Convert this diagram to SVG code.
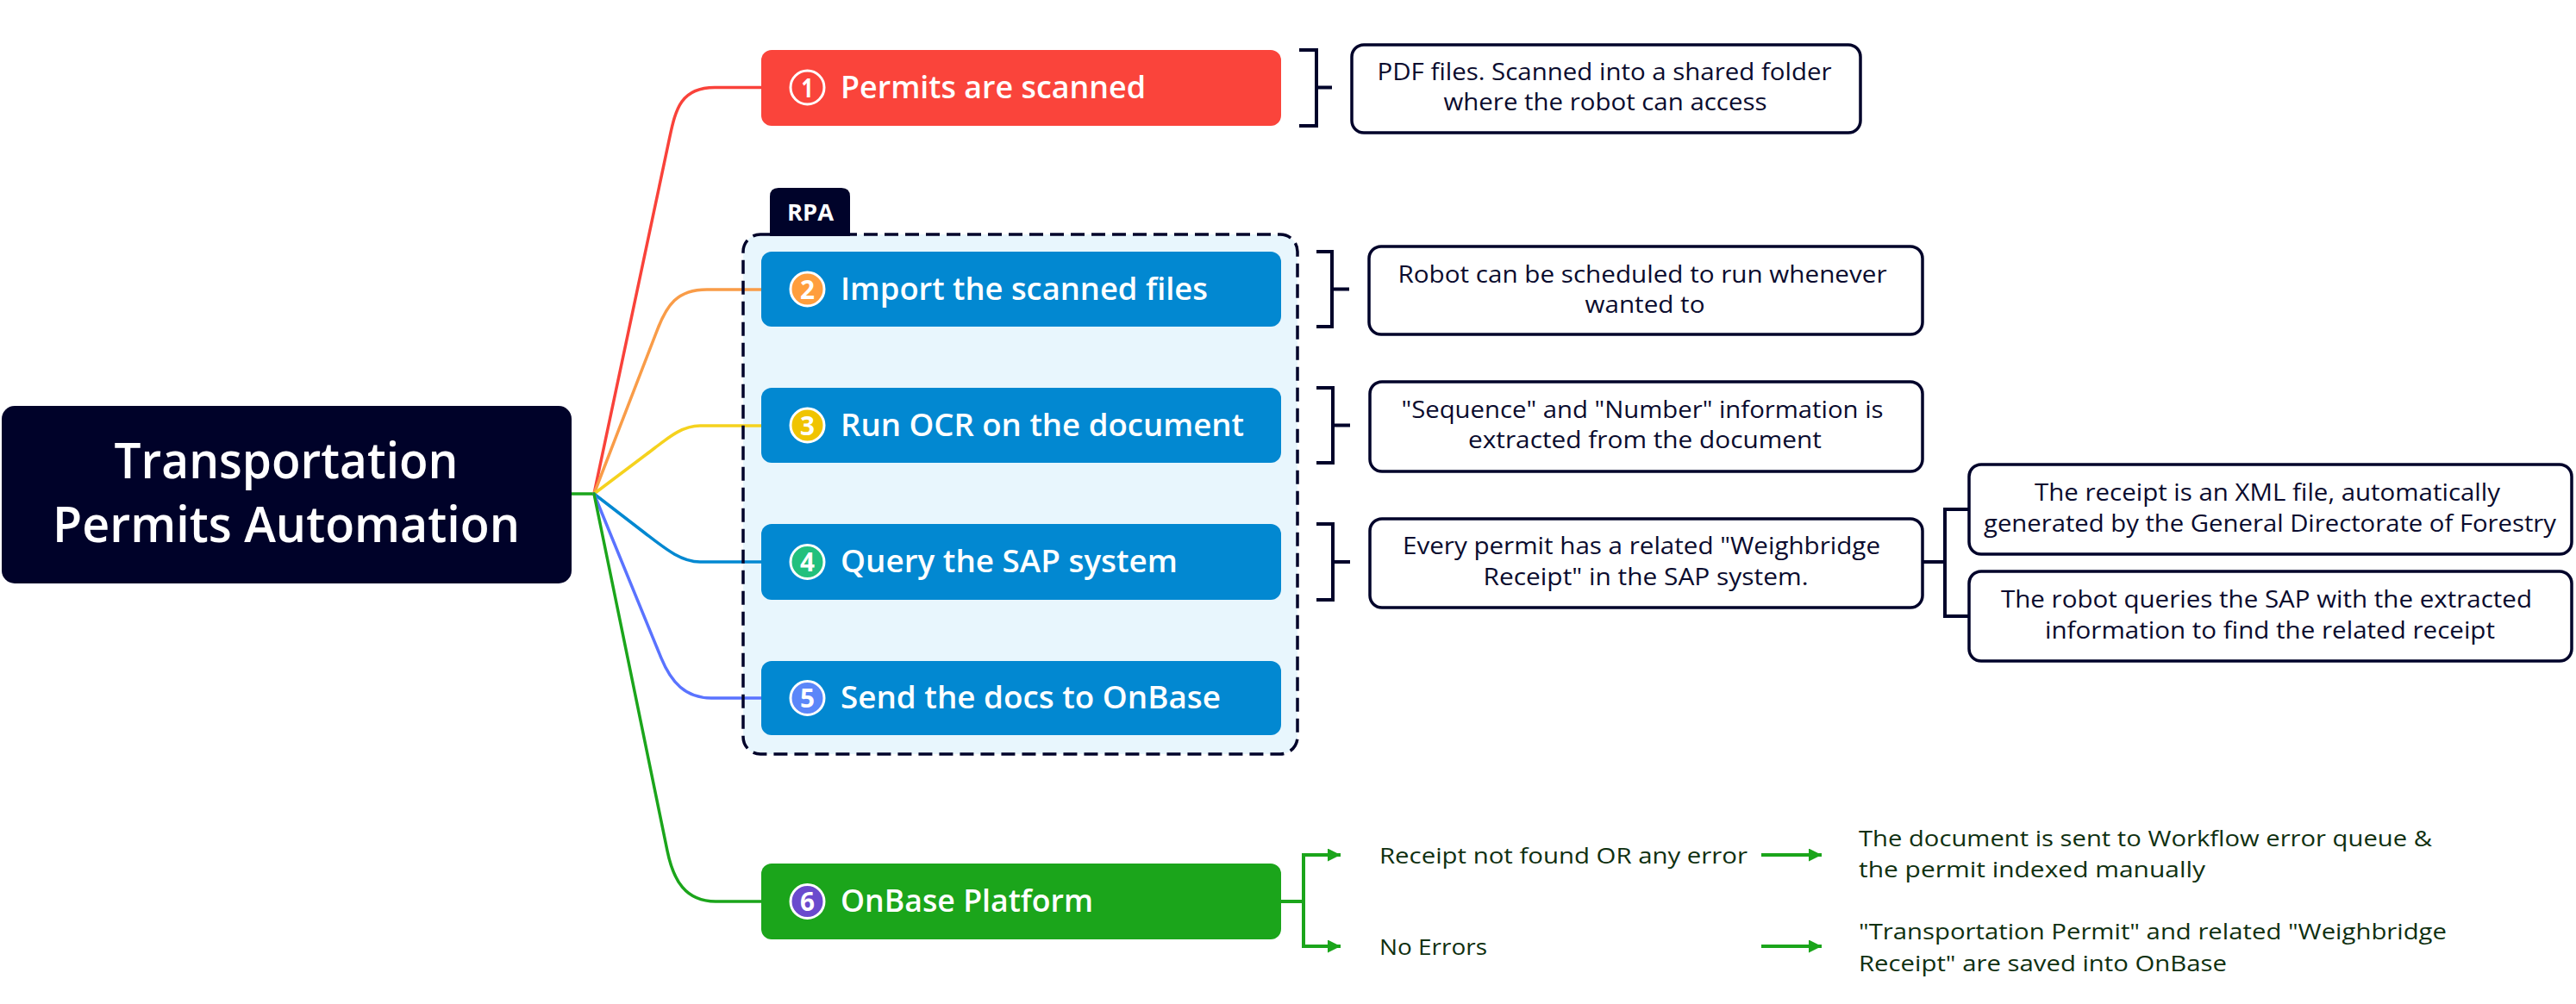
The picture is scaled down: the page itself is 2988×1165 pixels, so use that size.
<svg xmlns="http://www.w3.org/2000/svg" width="2988" height="1165" viewBox="0 0 2988 1165">
<style>
  .title{font-family:"Open Sans","Liberation Sans",sans-serif;font-weight:600;font-size:57px;fill:#ffffff;text-anchor:middle}
  .ntext{font-family:"Open Sans","Liberation Sans",sans-serif;font-weight:600;font-size:36px;fill:#ffffff}
  .num{font-family:"Open Sans","Liberation Sans",sans-serif;font-weight:700;font-size:31px;fill:#ffffff;text-anchor:middle}
  .badge{stroke:#ffffff;stroke-width:3}
  .note{fill:#ffffff;stroke:#00032A;stroke-width:3.5}
  .ntx{font-family:"Open Sans","Liberation Sans",sans-serif;font-size:27px;fill:#0A0B2E;text-anchor:middle}
  .gtx{font-family:"Open Sans","Liberation Sans",sans-serif;font-size:26px;fill:#0F3010}
  .brk{fill:none;stroke:#00032A;stroke-width:4}
  .con{fill:none;stroke-width:3.5;stroke-linecap:round}
  .gar{fill:none;stroke:#1BA51B;stroke-width:4}
  .blue{fill:#0288D1}
</style>
<defs>
  <marker id="ga" markerUnits="userSpaceOnUse" markerWidth="16" markerHeight="16" refX="15" refY="7.5" orient="auto">
    <path d="M0,0 L15,7.5 L0,15 Z" fill="#1BA51B"/>
  </marker>
</defs>
<rect width="2988" height="1165" fill="#ffffff"/>

<!-- RPA group background -->
<g id="rpa-bg">
  <rect x="862" y="272" width="643" height="603" rx="20" fill="#E8F6FD"/>
</g>

<!-- connectors -->
<g id="connectors">
  <path class="con" stroke="#1BA51B" d="M663,573 H689"/>
  <path class="con" stroke="#F9423A" d="M689,573 L776.6,160.2 C783.8,126 790,101.5 829,101.5 L883,101.5"/>
  <path class="con" stroke="#F99C48" d="M689,573 L762.5,382.6 C773.3,354.6 785,336 820,336 L883,336"/>
  <path class="con" stroke="#F5D21E" d="M689,573 L750,527 C774,509 790,494 812,494 L883,494"/>
  <path class="con" stroke="#0288D1" d="M689,573 L748,618.5 C771.8,636.8 790,652 812,652 L883,652"/>
  <path class="con" stroke="#5A73FF" d="M689,573 L767,763.7 C778.4,791.5 795,810 825,810 L883,810"/>
  <path class="con" stroke="#1BA51B" d="M689,573 L774,987.2 C781,1021.5 795,1046 830,1046 L883,1046"/>
  <!-- brackets -->
  <path class="brk" d="M1507,58 H1527 V146 H1507 M1527,101.5 H1545"/>
  <path class="brk" d="M1527,292 H1545 V379 H1527 M1545,335.5 H1565"/>
  <path class="brk" d="M1527,450 H1546 V537 H1527 M1546,493.5 H1566"/>
  <path class="brk" d="M1527,608 H1546 V696 H1527 M1546,652 H1566"/>
  <path class="brk" d="M2230,652 H2256 M2284,591 H2256 V715 H2284"/>
  <!-- green outcome arrows -->
  <path class="gar" d="M1486,1046 H1512"/>
  <path class="gar" d="M1512,1046 V992 H1555" marker-end="url(#ga)"/>
  <path class="gar" d="M1512,1046 V1098 H1555" marker-end="url(#ga)"/>
  <path class="gar" d="M2043,992 H2113" marker-end="url(#ga)"/>
  <path class="gar" d="M2043,1098 H2113" marker-end="url(#ga)"/>
</g>

<!-- RPA frame -->
<g id="rpa">
  <path d="M893,274 V228 Q893,218 903,218 H976 Q986,218 986,228 V274 Z" fill="#00032A"/>
  <text x="940" y="256" style="font-family:'Open Sans','Liberation Sans',sans-serif;font-weight:700;font-size:26px;fill:#ffffff;text-anchor:middle" textLength="54" lengthAdjust="spacingAndGlyphs">RPA</text>
  <rect x="862" y="272" width="643" height="603" rx="20" fill="none" stroke="#00032A" stroke-width="3.5" stroke-dasharray="16 8"/>
</g>

<!-- main node -->
<g id="main">
  <rect x="2" y="471" width="661" height="206" rx="15" fill="#000229"/>
  <text class="title" x="332" y="555" textLength="399" lengthAdjust="spacingAndGlyphs">Transportation</text>
  <text class="title" x="332" y="629" textLength="542" lengthAdjust="spacingAndGlyphs">Permits Automation</text>
</g>

<!-- step nodes -->
<g id="node1">
  <rect x="883" y="58" width="603" height="88" rx="12" fill="#FA443B"/>
  <circle class="badge" cx="936.5" cy="101.5" r="19.5" fill="#FA443B"/>
  <text class="num" x="936.5" y="112.5" textLength="14" lengthAdjust="spacingAndGlyphs">1</text>
  <text class="ntext" x="975" y="114" textLength="354" lengthAdjust="spacingAndGlyphs">Permits are scanned</text>
</g>
<g id="node2">
  <rect class="blue" x="883" y="292" width="603" height="87" rx="12"/>
  <circle class="badge" cx="936.5" cy="335.5" r="19.5" fill="#FF9E3D"/>
  <text class="num" x="936.5" y="346.5" textLength="17" lengthAdjust="spacingAndGlyphs">2</text>
  <text class="ntext" x="975" y="348" textLength="426" lengthAdjust="spacingAndGlyphs">Import the scanned files</text>
</g>
<g id="node3">
  <rect class="blue" x="883" y="450" width="603" height="87" rx="12"/>
  <circle class="badge" cx="936.5" cy="493.5" r="19.5" fill="#F0C400"/>
  <text class="num" x="936.5" y="504.5" textLength="17" lengthAdjust="spacingAndGlyphs">3</text>
  <text class="ntext" x="975" y="506" textLength="468" lengthAdjust="spacingAndGlyphs">Run OCR on the document</text>
</g>
<g id="node4">
  <rect class="blue" x="883" y="608" width="603" height="88" rx="12"/>
  <circle class="badge" cx="936.5" cy="652" r="19.5" fill="#22C07D"/>
  <text class="num" x="936.5" y="663" textLength="17" lengthAdjust="spacingAndGlyphs">4</text>
  <text class="ntext" x="975" y="664" textLength="391" lengthAdjust="spacingAndGlyphs">Query the SAP system</text>
</g>
<g id="node5">
  <rect class="blue" x="883" y="767" width="603" height="86" rx="12"/>
  <circle class="badge" cx="936.5" cy="810" r="19.5" fill="#5B86F9"/>
  <text class="num" x="936.5" y="821" textLength="17" lengthAdjust="spacingAndGlyphs">5</text>
  <text class="ntext" x="975" y="822" textLength="441" lengthAdjust="spacingAndGlyphs">Send the docs to OnBase</text>
</g>
<g id="node6">
  <rect x="883" y="1002" width="603" height="88" rx="12" fill="#1BA51B"/>
  <circle class="badge" cx="936.5" cy="1046" r="19.5" fill="#6A4ACD"/>
  <text class="num" x="936.5" y="1057" textLength="17" lengthAdjust="spacingAndGlyphs">6</text>
  <text class="ntext" x="975" y="1058" textLength="293" lengthAdjust="spacingAndGlyphs">OnBase Platform</text>
</g>

<!-- notes -->
<g id="note1">
  <rect class="note" x="1568" y="52" width="590" height="102" rx="14"/>
  <text class="ntx" x="1861" y="93" textLength="527" lengthAdjust="spacingAndGlyphs">PDF files. Scanned into a shared folder</text>
  <text class="ntx" x="1862" y="128" textLength="375" lengthAdjust="spacingAndGlyphs">where the robot can access</text>
</g>
<g id="note2">
  <rect class="note" x="1588" y="286" width="642" height="102" rx="14"/>
  <text class="ntx" x="1905" y="328" textLength="567" lengthAdjust="spacingAndGlyphs">Robot can be scheduled to run whenever</text>
  <text class="ntx" x="1908" y="363" textLength="139" lengthAdjust="spacingAndGlyphs">wanted to</text>
</g>
<g id="note3">
  <rect class="note" x="1589" y="443" width="641" height="104" rx="14"/>
  <text class="ntx" x="1905" y="485" textLength="559" lengthAdjust="spacingAndGlyphs">"Sequence" and "Number" information is</text>
  <text class="ntx" x="1908" y="520" textLength="410" lengthAdjust="spacingAndGlyphs">extracted from the document</text>
</g>
<g id="note4">
  <rect class="note" x="1589" y="602" width="641" height="103" rx="14"/>
  <text class="ntx" x="1904" y="643" textLength="554" lengthAdjust="spacingAndGlyphs">Every permit has a related "Weighbridge</text>
  <text class="ntx" x="1909" y="679" textLength="377" lengthAdjust="spacingAndGlyphs">Receipt" in the SAP system.</text>
</g>
<g id="note5">
  <rect class="note" x="2284" y="539" width="699" height="104" rx="14"/>
  <text class="ntx" x="2630" y="581" textLength="540" lengthAdjust="spacingAndGlyphs">The receipt is an XML file, automatically</text>
  <text class="ntx" x="2633" y="617" textLength="664" lengthAdjust="spacingAndGlyphs">generated by the General Directorate of Forestry</text>
</g>
<g id="note6">
  <rect class="note" x="2284" y="663" width="699" height="104" rx="14"/>
  <text class="ntx" x="2629" y="705" textLength="616" lengthAdjust="spacingAndGlyphs">The robot queries the SAP with the extracted</text>
  <text class="ntx" x="2633" y="741" textLength="522" lengthAdjust="spacingAndGlyphs">information to find the related receipt</text>
</g>

<!-- outcomes -->
<g id="outcome-error">
  <text class="gtx" x="1600" y="1002" textLength="427" lengthAdjust="spacingAndGlyphs">Receipt not found OR any error</text>
  <text class="gtx" x="2156" y="982" textLength="665" lengthAdjust="spacingAndGlyphs">The document is sent to Workflow error queue &amp;</text>
  <text class="gtx" x="2156" y="1018" textLength="402" lengthAdjust="spacingAndGlyphs">the permit indexed manually</text>
</g>
<g id="outcome-ok">
  <text class="gtx" x="1600" y="1108" textLength="125" lengthAdjust="spacingAndGlyphs">No Errors</text>
  <text class="gtx" x="2156" y="1090" textLength="682" lengthAdjust="spacingAndGlyphs">"Transportation Permit" and related "Weighbridge</text>
  <text class="gtx" x="2156" y="1127" textLength="427" lengthAdjust="spacingAndGlyphs">Receipt" are saved into OnBase</text>
</g>
</svg>
